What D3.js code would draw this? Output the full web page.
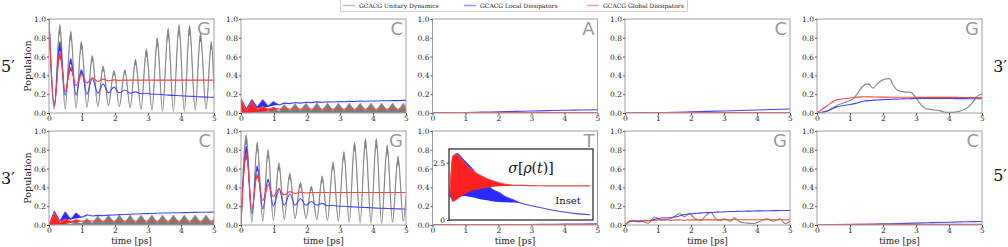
<!DOCTYPE html>
<html>
<head>
<meta charset="utf-8">
<script src="https://cdn.jsdelivr.net/npm/d3@7"></script>
<style>
  body { margin: 0; background: #fff; }
  svg { display: block; }
  text { font-family: "DejaVu Serif", serif; }
</style>
</head>
<body>
<svg id="chart" width="1008" height="247"></svg>
<script>
// ---- data ----
var seriesNames = ["GCACG Unitary Dynamics", "GCACG Local Dissipators", "GCACG Global Dissipators"];
var xTicks = [0, 1, 2, 3, 4, 5];
var yTicks = [0.0, 0.2, 0.4, 0.6, 0.8, 1.0];

// time grid at the extrema of the fast oscillation
var tOsc = [0, 0.16, 0.33, 0.49, 0.66, 0.82, 0.98, 1.15, 1.31, 1.48, 1.64, 1.80, 1.97, 2.13, 2.30, 2.46,
            2.62, 2.79, 2.95, 3.12, 3.28, 3.44, 3.61, 3.77, 3.94, 4.10, 4.26, 4.43, 4.59, 4.76, 4.92, 5.0];
var tSlow = [0, 0.2, 0.4, 0.6, 0.8, 1.0, 1.2, 1.4, 1.6, 1.8, 2.0, 2.2, 2.4, 2.6, 2.8, 3.0, 3.2, 3.4, 3.6,
             3.8, 4.0, 4.2, 4.4, 4.6, 4.8, 5.0];
var tFlat = [0, 0.5, 1.0, 1.5, 2.0, 2.5, 3.0, 3.5, 4.0, 4.5, 5.0];

// 5' G
var g5Unitary = [1.00, 0.04, 0.94, 0.04, 0.87, 0.05, 0.76, 0.06, 0.61, 0.07, 0.50, 0.08, 0.45, 0.07, 0.46, 0.06,
                 0.57, 0.04, 0.68, 0.03, 0.80, 0.02, 0.90, 0.02, 0.94, 0.02, 0.93, 0.03, 0.85, 0.04, 0.76, 0.25];
var g5UnitaryLo = [1.00, 0.04, 0.84, 0.04, 0.78, 0.05, 0.68, 0.06, 0.55, 0.07, 0.45, 0.08, 0.41, 0.07, 0.42, 0.06,
                   0.51, 0.04, 0.60, 0.03, 0.71, 0.02, 0.80, 0.02, 0.84, 0.02, 0.83, 0.03, 0.76, 0.04, 0.68, 0.25];
var g5Local = [1.00, 0.07, 0.76, 0.19, 0.58, 0.19, 0.46, 0.20, 0.37, 0.21, 0.31, 0.215, 0.275, 0.215, 0.245, 0.21,
               0.225, 0.205, 0.21, 0.20, 0.20, 0.195, 0.19, 0.187, 0.184, 0.181, 0.178, 0.175, 0.172, 0.169, 0.167, 0.166];
var g5LocalLo = [1.00, 0.07, 0.66, 0.19, 0.52, 0.19, 0.42, 0.20];
var g5Global = [1.00, 0.08, 0.64, 0.23, 0.49, 0.29, 0.41, 0.32, 0.375, 0.335, 0.36, 0.343, 0.352, 0.347, 0.35, 0.35,
                0.35, 0.35, 0.35, 0.35, 0.35, 0.35, 0.35, 0.35, 0.35, 0.35, 0.35, 0.35, 0.35, 0.35, 0.35, 0.35];
var g5GlobalLo = [1.00, 0.08, 0.58, 0.23, 0.45, 0.29, 0.39];

// 3' G
var g3Unitary = [0, 0.96, 0.03, 0.88, 0.04, 0.80, 0.05, 0.66, 0.06, 0.55, 0.07, 0.45, 0.07, 0.41, 0.06, 0.52,
                 0.05, 0.67, 0.04, 0.78, 0.03, 0.88, 0.02, 0.92, 0.02, 0.92, 0.02, 0.85, 0.03, 0.73, 0.04, 0.30];
var g3UnitaryLo = [0, 0.86, 0.03, 0.79, 0.04, 0.72, 0.05, 0.59, 0.06, 0.49, 0.07, 0.40, 0.07, 0.37, 0.06, 0.46,
                   0.05, 0.60, 0.04, 0.70, 0.03, 0.79, 0.02, 0.82, 0.02, 0.82, 0.02, 0.76, 0.03, 0.65, 0.04, 0.30];
var g3Local = [0, 0.84, 0.12, 0.63, 0.17, 0.49, 0.20, 0.39, 0.21, 0.33, 0.21, 0.28, 0.21, 0.25, 0.21, 0.23,
               0.205, 0.21, 0.20, 0.20, 0.195, 0.192, 0.189, 0.186, 0.183, 0.18, 0.178, 0.176, 0.174, 0.172, 0.17, 0.17];
var g3LocalLo = [0, 0.76, 0.12, 0.58, 0.17, 0.46, 0.20, 0.37];
var g3Global = [0, 0.77, 0.17, 0.54, 0.26, 0.43, 0.30, 0.38, 0.32, 0.355, 0.335, 0.35, 0.34, 0.345, 0.345, 0.345,
                0.345, 0.345, 0.345, 0.345, 0.345, 0.345, 0.345, 0.345, 0.345, 0.345, 0.345, 0.345, 0.345, 0.345, 0.345, 0.345];
var g3GlobalLo = [0, 0.70, 0.17, 0.50, 0.26, 0.41];

// 5' C (row 1, col 2)
var c5Unitary = [0, 0, 0.01, 0.005, 0.025, 0.01, 0.06, 0.015, 0.085, 0.02, 0.095, 0.02, 0.10, 0.02, 0.10, 0.02,
                 0.10, 0.02, 0.10, 0.02, 0.10, 0.02, 0.10, 0.02, 0.10, 0.02, 0.10, 0.02, 0.10, 0.02, 0.10, 0.05];
var c5Local = [0.15, 0.04, 0.14, 0.06, 0.14, 0.07, 0.12, 0.085, 0.105, 0.10, 0.112, 0.105, 0.115, 0.11, 0.118, 0.114,
               0.12, 0.117, 0.122, 0.12, 0.124, 0.122, 0.126, 0.125, 0.128, 0.127, 0.13, 0.13, 0.132, 0.132, 0.134, 0.134];
var c5LocalLo = [0.15, 0.03, 0.05, 0.05, 0.06, 0.065, 0.08, 0.085, 0.105];
var c5Global = [0.15, 0.02, 0.12, 0.035, 0.07, 0.04, 0.055, 0.043, 0.045, 0.043, 0.043, 0.043, 0.043, 0.043, 0.043, 0.043,
                0.043, 0.043, 0.043, 0.043, 0.043, 0.043, 0.043, 0.043, 0.043, 0.043, 0.043, 0.043, 0.043, 0.043, 0.043, 0.043];
var c5GlobalLo = [0, 0, 0.005, 0.01, 0.015, 0.025, 0.035, 0.043];

// 3' C (row 2, col 1)
var c3Unitary = [0, 0, 0.005, 0.01, 0.005, 0.03, 0.01, 0.065, 0.015, 0.09, 0.02, 0.10, 0.02, 0.10, 0.02, 0.10,
                 0.02, 0.10, 0.02, 0.10, 0.02, 0.10, 0.02, 0.10, 0.02, 0.10, 0.02, 0.10, 0.02, 0.10, 0.02, 0.07];
var c3Local = [0, 0.145, 0.04, 0.138, 0.06, 0.127, 0.08, 0.11, 0.095, 0.102, 0.10, 0.105, 0.107, 0.11, 0.112, 0.115,
               0.117, 0.119, 0.121, 0.123, 0.125, 0.127, 0.128, 0.13, 0.131, 0.132, 0.133, 0.134, 0.135, 0.136, 0.137, 0.138];
var c3LocalLo = [0, 0.03, 0.04, 0.05, 0.06, 0.07, 0.08, 0.095];
var c3Global = [0, 0.127, 0.025, 0.064, 0.035, 0.056, 0.04, 0.045, 0.042, 0.042, 0.042, 0.042, 0.042, 0.042, 0.042, 0.042,
                0.042, 0.042, 0.042, 0.042, 0.042, 0.042, 0.042, 0.042, 0.042, 0.042, 0.042, 0.042, 0.042, 0.042, 0.042, 0.042];
var c3GlobalLo = [0, 0, 0.005, 0.01, 0.02, 0.03, 0.04];

// nearly empty panels
var a5Unitary = [0, 0.003, 0.002, 0.004, 0.003, 0.002, 0.004, 0.003, 0.002, 0.004, 0.003];
var a5Local = [0, 0.002, 0.005, 0.009, 0.013, 0.017, 0.021, 0.025, 0.029, 0.032, 0.035];
var a5Global = [0, 0.004, 0.005, 0.005, 0.005, 0.006, 0.006, 0.006, 0.006, 0.006, 0.006];
var cc5Unitary = [0, 0.002, 0.003, 0.002, 0.003, 0.002, 0.003, 0.002, 0.003, 0.002, 0.003];
var cc5Local = [0, 0.001, 0.003, 0.007, 0.012, 0.017, 0.022, 0.027, 0.032, 0.037, 0.042];
var cc5Global = [0, 0.003, 0.004, 0.005, 0.005, 0.005, 0.005, 0.005, 0.005, 0.005, 0.005];
var t3Unitary = [0, 0.003, 0.002, 0.003, 0.002, 0.003, 0.002, 0.003, 0.002, 0.003, 0.002];
var t3Local = [0, 0.001, 0.002, 0.003, 0.004, 0.005, 0.006, 0.008, 0.009, 0.011, 0.012];
var t3Global = [0, 0.005, 0.005, 0.005, 0.005, 0.005, 0.005, 0.005, 0.005, 0.005, 0.005];
var cc3Unitary = [0, 0.004, 0.003, 0.004, 0.005, 0.004, 0.003, 0.004, 0.005, 0.004, 0.004];
var cc3Local = [0, 0.002, 0.004, 0.008, 0.012, 0.016, 0.02, 0.025, 0.03, 0.034, 0.038];
var cc3Global = [0, 0.006, 0.008, 0.008, 0.008, 0.008, 0.008, 0.008, 0.008, 0.008, 0.008];

// 3' G (row 1, col 5)
var tG3 = [0, 0.3, 0.6, 0.9, 1.1, 1.25, 1.4, 1.55, 1.7, 1.85, 2.05, 2.2, 2.3, 2.45, 2.65, 2.85, 3.0, 3.15, 3.3, 3.5,
           3.7, 3.9, 4.1, 4.3, 4.5, 4.7, 4.85, 5.0];
var gg3Unitary = [0, 0.02, 0.08, 0.12, 0.15, 0.22, 0.29, 0.31, 0.265, 0.32, 0.36, 0.365, 0.30, 0.24, 0.225, 0.22, 0.16, 0.09, 0.045, 0.035,
                  0.025, 0.007, 0.007, 0.018, 0.042, 0.106, 0.177, 0.2];
var gg3Local = [0, 0.01, 0.035, 0.065, 0.08, 0.09, 0.105, 0.125, 0.133, 0.138, 0.142, 0.145, 0.148, 0.15, 0.152, 0.154, 0.155, 0.155, 0.155,
                0.154, 0.154, 0.153, 0.153, 0.152, 0.152, 0.151];
var gg3Global = [0, 0.05, 0.10, 0.14, 0.152, 0.16, 0.168, 0.173, 0.172, 0.17, 0.169, 0.168, 0.168, 0.167, 0.167, 0.167, 0.166, 0.166, 0.166,
                 0.166, 0.166, 0.166, 0.165, 0.165, 0.165, 0.165];

// 5' G (row 2, col 4)
var tG5 = [0, 0.2, 0.5, 0.7, 0.9, 1.1, 1.3, 1.5, 1.65, 1.8, 1.95, 2.1, 2.3, 2.45, 2.6, 2.75, 2.9, 3.0, 3.2, 3.3, 3.5, 3.7,
           3.9, 4.1, 4.3, 4.5, 4.7, 4.85, 5.0];
var gg5Unitary = [0, 0.04, 0.04, 0.02, 0.085, 0.055, 0.06, 0.09, 0.12, 0.085, 0.12, 0.075, 0.05, 0.10, 0.135, 0.065, 0.045, 0.065,
                  0.04, 0.075, 0.03, 0.02, 0.015, 0.04, 0.065, 0.04, 0.065, 0.015, 0.04];
var gg5Local = [0, 0.045, 0.035, 0.045, 0.05, 0.07, 0.075, 0.08, 0.09, 0.11, 0.12, 0.125, 0.13, 0.133, 0.137, 0.14, 0.143, 0.145,
                0.147, 0.148, 0.15, 0.151, 0.152, 0.153, 0.154, 0.155];
var gg5Global = [0, 0.05, 0.045, 0.05, 0.045, 0.055, 0.055, 0.05, 0.055, 0.05, 0.055, 0.055, 0.055, 0.055, 0.055, 0.056, 0.056,
                 0.056, 0.056, 0.056, 0.056, 0.056, 0.056, 0.056, 0.056, 0.056];

// inset sigma[rho(t)]
var tInset = [0, 0.1, 0.25, 0.5, 0.75, 1.0, 1.25, 1.5, 1.75, 2.0, 2.25, 2.5, 3.0, 3.5, 4.0, 4.5, 5.0];
var insetLocal = [1.0, 2.7, 2.9, 2.6, 2.3, 1.95, 1.65, 1.35, 1.2, 1.0, 0.88, 0.75, 0.6, 0.47, 0.36, 0.28, 0.23];
var insetLocalLo = [1.0, 0.9, 1.0, 1.05, 1.0, 0.93, 0.87, 0.82, 0.79, 0.78, 0.76, 0.75];
var insetGlobal = [1.2, 2.8, 2.85, 2.5, 2.2, 2.0, 1.85, 1.72, 1.62, 1.56, 1.52, 1.51, 1.5, 1.49, 1.49, 1.49, 1.49];
var insetGlobalLo = [1.2, 0.8, 0.9, 1.1, 1.25, 1.33, 1.4, 1.44, 1.47, 1.48, 1.5, 1.51];
var insetTicks = [0, 2.5];

// ---- layout ----
var svg = d3.select("#chart");
var serif = "'DejaVu Serif', serif";
var colLeft = [49, 241, 432.5, 625, 817];
var rowTop = [19, 131];
var panelW = 165, panelH = 94;
var colors = { unitary: "#8a8a8a", local: "#4545ff", global: "#ff4242" };
var fills = { unitary: "#7c7c7c", local: "#2a2aff", global: "#ff2020" };

var panels = [
  { row: 0, col: 0, letter: "G", curve: d3.curveMonotoneX,
    unitary: { t: tOsc, hi: g5Unitary, lo: g5UnitaryLo }, local: { t: tOsc, hi: g5Local, lo: g5LocalLo }, global: { t: tOsc, hi: g5Global, lo: g5GlobalLo } },
  { row: 0, col: 1, letter: "C", curve: d3.curveLinear,
    unitary: { t: tOsc, hi: c5Unitary, base: true }, local: { t: tOsc, hi: c5Local, lo: c5LocalLo }, global: { t: tOsc, hi: c5Global, lo: c5GlobalLo } },
  { row: 0, col: 2, letter: "A", curve: d3.curveMonotoneX,
    unitary: { t: tFlat, hi: a5Unitary }, local: { t: tFlat, hi: a5Local }, global: { t: tFlat, hi: a5Global } },
  { row: 0, col: 3, letter: "C", curve: d3.curveMonotoneX,
    unitary: { t: tFlat, hi: cc5Unitary }, local: { t: tFlat, hi: cc5Local }, global: { t: tFlat, hi: cc5Global } },
  { row: 0, col: 4, letter: "G", curve: d3.curveMonotoneX,
    unitary: { t: tG3, hi: gg3Unitary }, local: { t: tSlow, hi: gg3Local }, global: { t: tSlow, hi: gg3Global } },
  { row: 1, col: 0, letter: "C", curve: d3.curveLinear,
    unitary: { t: tOsc, hi: c3Unitary, base: true }, local: { t: tOsc, hi: c3Local, lo: c3LocalLo }, global: { t: tOsc, hi: c3Global, lo: c3GlobalLo } },
  { row: 1, col: 1, letter: "G", curve: d3.curveMonotoneX,
    unitary: { t: tOsc, hi: g3Unitary, lo: g3UnitaryLo }, local: { t: tOsc, hi: g3Local, lo: g3LocalLo }, global: { t: tOsc, hi: g3Global, lo: g3GlobalLo } },
  { row: 1, col: 2, letter: "T", curve: d3.curveMonotoneX, inset: true,
    unitary: { t: tFlat, hi: t3Unitary }, local: { t: tFlat, hi: t3Local }, global: { t: tFlat, hi: t3Global } },
  { row: 1, col: 3, letter: "G", curve: d3.curveMonotoneX,
    unitary: { t: tG5, hi: gg5Unitary }, local: { t: tSlow, hi: gg5Local }, global: { t: tSlow, hi: gg5Global } },
  { row: 1, col: 4, letter: "C", curve: d3.curveMonotoneX,
    unitary: { t: tFlat, hi: cc3Unitary }, local: { t: tFlat, hi: cc3Local }, global: { t: tFlat, hi: cc3Global } }
];

function drawSeries(g, x, y, s, key, curve) {
  var pts = s.t.map(function(t, i) { return { t: t, v: s.hi[i], lo: s.lo ? s.lo[i] : null }; });
  if (s.base) {
    g.append("path").datum(pts)
      .attr("fill", fills[key])
      .attr("d", d3.area().curve(curve).x(function(d) { return x(d.t); }).y0(y(0)).y1(function(d) { return y(d.v); }));
  }
  if (s.lo) {
    g.append("path").datum(pts.slice(0, s.lo.length))
      .attr("fill", fills[key])
      .attr("d", d3.area().curve(curve).x(function(d) { return x(d.t); }).y0(function(d) { return y(d.lo); }).y1(function(d) { return y(d.v); }));
  }
  g.append("path").datum(pts)
    .attr("fill", "none")
    .attr("stroke", colors[key])
    .attr("stroke-width", key === "unitary" ? 1.2 : 1.1)
    .attr("stroke-linejoin", "round")
    .attr("d", d3.line().curve(curve).x(function(d) { return x(d.t); }).y(function(d) { return y(d.v); }));
}

function styleAxis(a) {
  a.select(".domain").remove();
  a.attr("font-family", serif);
  a.selectAll(".tick line").attr("stroke", "#555");
  a.selectAll(".tick text").attr("fill", "#222")
    .attr("font-family", serif).style("font-family", serif).style("font-size", "7.5px");
}

panels.forEach(function(p) {
  var left = colLeft[p.col], top = rowTop[p.row];
  var x = d3.scaleLinear().domain([0, 5]).range([left, left + panelW]);
  var y = d3.scaleLinear().domain([0, 1]).range([top + panelH, top]);
  var g = svg.append("g");

  g.append("rect").attr("x", left).attr("y", top).attr("width", panelW).attr("height", panelH)
    .attr("fill", "#fff");

  // panel letter
  g.append("text").attr("x", left + panelW - 3).attr("y", top + 16)
    .attr("text-anchor", "end").attr("fill", "#9a9a9a")
    .attr("font-family", "'DejaVu Sans', sans-serif")
    .style("font-family", "'DejaVu Sans', sans-serif").style("font-size", "18px")
    .text(p.letter);

  var clipId = "clip" + p.row + p.col;
  g.append("clipPath").attr("id", clipId).append("rect")
    .attr("x", left).attr("y", top - 1).attr("width", panelW).attr("height", panelH + 1);
  var lines = g.append("g").attr("clip-path", "url(#" + clipId + ")");
  drawSeries(lines, x, y, p.unitary, "unitary", p.curve);
  drawSeries(lines, x, y, p.local, "local", p.curve);
  drawSeries(lines, x, y, p.global, "global", p.curve);

  // frame
  g.append("rect").attr("x", left).attr("y", top).attr("width", panelW).attr("height", panelH)
    .attr("fill", "none").attr("stroke", "#a0a0a0").attr("stroke-width", 1);

  var ax = g.append("g").attr("transform", "translate(0," + (top + panelH) + ")")
    .call(d3.axisBottom(x).tickValues(xTicks).tickFormat(d3.format("d")).tickSize(2).tickPadding(0.5));
  var ay = g.append("g").attr("transform", "translate(" + left + ",0)")
    .call(d3.axisLeft(y).tickValues(yTicks).tickFormat(d3.format(".1f")).tickSize(2).tickPadding(1));
  styleAxis(ax);
  styleAxis(ay);

  if (p.col === 0) {
    g.append("text").attr("transform", "translate(" + 31 + "," + (top + panelH / 2) + ") rotate(-90)")
      .attr("text-anchor", "middle").attr("fill", "#222")
      .attr("font-family", serif).style("font-size", "9.5px").text("Population");
  }
  if (p.row === 1) {
    g.append("text").attr("x", left + panelW / 2).attr("y", 243.5)
      .attr("text-anchor", "middle").attr("fill", "#222")
      .attr("font-family", serif).style("font-size", "9px").text("time [ps]");
  }

  if (p.inset) {
    var ix0 = 449, iy0 = 149, iw = 144, ih = 71;
    var xi = d3.scaleLinear().domain([0, 5]).range([ix0 + 1, ix0 + iw - 3]);
    var yi = d3.scaleLinear().domain([0, 3.1]).range([iy0 + ih, iy0]);
    g.append("rect").attr("x", ix0).attr("y", iy0).attr("width", iw).attr("height", ih)
      .attr("fill", "#fff");
    var ig = g.append("g");
    drawSeries(ig, xi, yi, { t: tInset, hi: insetLocal, lo: insetLocalLo }, "local", d3.curveMonotoneX);
    drawSeries(ig, xi, yi, { t: tInset, hi: insetGlobal, lo: insetGlobalLo }, "global", d3.curveMonotoneX);
    g.append("rect").attr("x", ix0).attr("y", iy0).attr("width", iw).attr("height", ih)
      .attr("fill", "none").attr("stroke", "#222").attr("stroke-width", 1.2);
    var aiy = g.append("g").attr("transform", "translate(" + ix0 + ",0)")
      .call(d3.axisLeft(yi).tickValues(insetTicks).tickFormat(function(d) { return d === 0 ? "0" : d3.format(".1f")(d); }).tickSize(2).tickPadding(2));
    styleAxis(aiy);
    aiy.selectAll(".tick line").attr("stroke", "#333");
    var sig = g.append("text").attr("x", 531).attr("y", 173).attr("text-anchor", "middle")
      .attr("fill", "#111").attr("font-family", serif).style("font-size", "14px");
    sig.append("tspan").style("font-style", "italic").text("σ");
    sig.append("tspan").text("[");
    sig.append("tspan").style("font-style", "italic").text("ρ");
    sig.append("tspan").text("(");
    sig.append("tspan").style("font-style", "italic").text("t");
    sig.append("tspan").text(")]");
    g.append("text").attr("x", 568).attr("y", 204).attr("text-anchor", "middle")
      .attr("fill", "#111").attr("font-family", serif).style("font-size", "10px").text("Inset");
  }
});

// strand labels
var strandLabels = [
  { text: "5\u2032", x: 1, y: 72, anchor: "start" },
  { text: "3\u2032", x: 1, y: 184, anchor: "start" },
  { text: "3\u2032", x: 1007, y: 72, anchor: "end" },
  { text: "5\u2032", x: 1007, y: 181, anchor: "end" }
];
svg.selectAll(".strand").data(strandLabels).enter().append("text")
  .attr("class", "strand")
  .attr("x", function(d) { return d.x; }).attr("y", function(d) { return d.y; })
  .attr("text-anchor", function(d) { return d.anchor; })
  .attr("fill", "#111").attr("font-family", serif).style("font-size", "16px")
  .text(function(d) { return d.text; });

// legend
var legend = svg.append("g");
legend.append("rect").attr("x", 340.5).attr("y", -1.5).attr("width", 347).attr("height", 13)
  .attr("fill", "#fff").attr("stroke", "#d0d0d0").attr("rx", 1.5);
var legendX = [343, 464, 587];
var legendColors = ["#bdbdbd", "#9a9aff", "#ff9a9a"];
seriesNames.forEach(function(name, i) {
  legend.append("line").attr("x1", legendX[i]).attr("x2", legendX[i] + 12).attr("y1", 5.5).attr("y2", 5.5)
    .attr("stroke", legendColors[i]).attr("stroke-width", 1.5);
  legend.append("text").attr("x", legendX[i] + 16).attr("y", 8).attr("fill", "#222")
    .attr("font-family", serif).style("font-size", "6px").text(name);
});
</script>
</body>
</html>
